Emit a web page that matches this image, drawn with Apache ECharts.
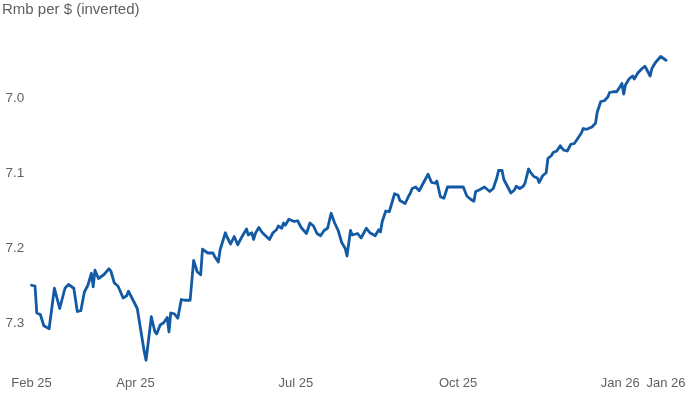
<!DOCTYPE html>
<html>
<head>
<meta charset="utf-8">
<script src="https://cdn.jsdelivr.net/npm/echarts@6/dist/echarts.min.js"></script>
<style>
html,body{margin:0;padding:0;background:#fff;}
#chart{width:690px;height:400px;}
</style>
</head>
<body>
<div id="chart"></div>
<script>
// Days since 2025-02-01
const dayOffsets = [0,2,3,5,7,10,11,13,15,16,17,19,21,24,26,28,30,32,34,35,36,38,41,44,45,47,49,50,52,54,55,57,58,60,61,62,64,65,68,70,71,73,75,77,78,79,81,83,85,87,90,92,94,96,97,100,103,104,106,107,108,110,111,113,115,117,119,122,123,125,126,127,129,131,132,135,137,139,140,142,143,144,146,149,151,153,154,156,158,160,162,164,166,168,170,172,174,175,176,178,179,181,182,185,187,190,192,195,197,198,199,201,203,206,208,209,212,214,215,216,218,220,222,225,227,229,230,232,234,236,245,247,249,250,251,252,254,255,257,258,260,262,264,265,267,268,270,272,274,275,277,279,280,282,283,285,287,288,290,292,293,295,296,298,300,302,304,305,306,308,310,312,313,315,318,320,321,323,325,327,328,330,332,334,335,336,337,339,341,342,344,345,346,348,349,351,352,354,355,357,358,360];
// Rmb per $
const rates = [7.249,7.250,7.286,7.288,7.303,7.307,7.306,7.253,7.271,7.280,7.282,7.253,7.248,7.253,7.284,7.283,7.258,7.249,7.233,7.251,7.229,7.240,7.235,7.227,7.230,7.246,7.250,7.255,7.266,7.263,7.257,7.266,7.266,7.280,7.281,7.309,7.338,7.349,7.291,7.311,7.314,7.302,7.299,7.292,7.311,7.286,7.287,7.293,7.268,7.269,7.269,7.216,7.231,7.235,7.201,7.206,7.206,7.211,7.218,7.202,7.202,7.179,7.185,7.194,7.184,7.195,7.186,7.174,7.182,7.179,7.188,7.180,7.172,7.179,7.179,7.188,7.179,7.175,7.170,7.173,7.166,7.169,7.161,7.164,7.163,7.172,7.174,7.180,7.166,7.170,7.180,7.183,7.176,7.173,7.153,7.166,7.176,7.178,7.192,7.200,7.210,7.176,7.182,7.180,7.186,7.173,7.179,7.183,7.175,7.178,7.164,7.150,7.151,7.127,7.129,7.136,7.140,7.130,7.126,7.120,7.118,7.123,7.114,7.101,7.112,7.113,7.110,7.131,7.133,7.118,7.118,7.130,7.134,7.132,7.137,7.124,7.122,7.124,7.118,7.120,7.124,7.120,7.106,7.096,7.096,7.108,7.117,7.126,7.122,7.117,7.120,7.117,7.113,7.094,7.098,7.104,7.106,7.112,7.103,7.099,7.080,7.076,7.072,7.070,7.063,7.069,7.070,7.068,7.061,7.060,7.053,7.046,7.040,7.041,7.038,7.033,7.018,7.004,7.003,6.998,6.992,6.991,6.991,6.984,6.980,6.994,6.982,6.974,6.970,6.974,6.966,6.966,6.961,6.957,6.961,6.970,6.960,6.952,6.951,6.944,6.945,6.949];
// X tick positions (days since 2025-02-01) and labels
const xTickDays = [0,59,150,242,334,360];
const xTickLabels = ['Feb 25','Apr 25','Jul 25','Oct 25','Jan 26','Jan 26'];
// Y tick values
const yTicks = [7.0,7.1,7.2,7.3];

const chart = echarts.init(document.getElementById('chart'), null, {renderer:'canvas'});
const fontFamily = "'Liberation Sans', Arial, sans-serif";
const labelColor = '#66605c';
const lineColor = '#135aa4';

chart.setOption({
  animation:false,
  backgroundColor:'#ffffff',
  title:{
    text:'Rmb per $ (inverted)',
    left:2, top:2, padding:0,
    textStyle:{fontFamily, fontSize:15, fontWeight:'normal', color:labelColor}
  },
  grid:{left:31.5, right:24, top:23.5, bottom:31.5},
  xAxis:{
    type:'value', min:0, max:360,
    axisLine:{show:false}, axisTick:{show:false}, splitLine:{show:false},
    axisLabel:{
      customValues:xTickDays,
      margin:8,
      fontFamily, fontSize:13, color:labelColor,
      formatter:function(v){const i=xTickDays.indexOf(Math.round(v));return i>=0?xTickLabels[i]:'';}
    }
  },
  yAxis:{
    type:'value', inverse:true, min:6.9, max:7.36,
    axisLine:{show:false}, axisTick:{show:false}, splitLine:{show:false},
    axisLabel:{
      customValues:yTicks,
      align:'left', margin:26,
      fontFamily, fontSize:13.5, color:labelColor,
      formatter:function(v){return v.toFixed(1);}
    }
  },
  series:[{
    type:'line',
    data:dayOffsets.map((d,i)=>[d,rates[i]]),
    showSymbol:false,
    lineStyle:{color:lineColor, width:2.8, join:'round', cap:'round'},
    itemStyle:{color:lineColor}
  }]
});
</script>
</body>
</html>
